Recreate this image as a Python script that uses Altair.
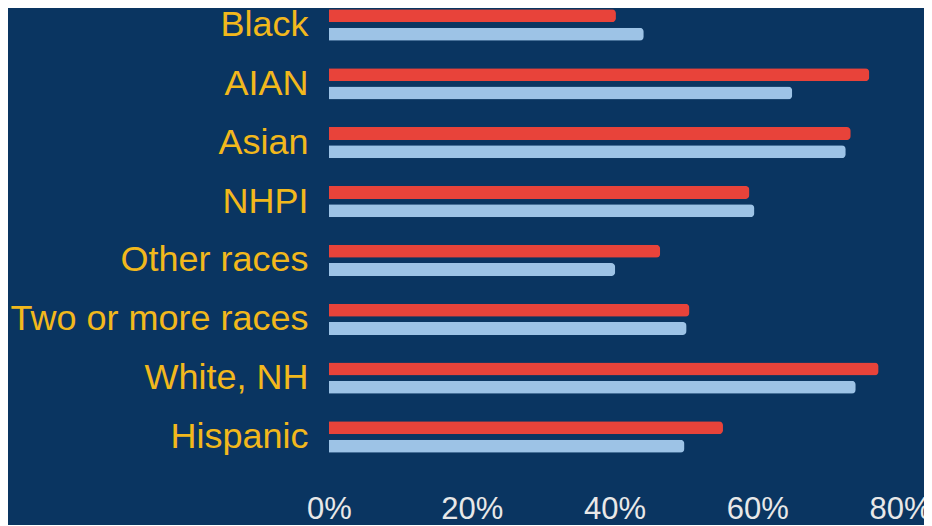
import altair as alt
import pandas as pd

groups = ["Black", "AIAN", "Asian", "NHPI", "Other races",
          "Two or more races", "White, NH", "Hispanic"]
series_names = ["Series 1", "Series 2"]
series1 = [0.402, 0.757, 0.731, 0.589, 0.464, 0.505, 0.770, 0.552]
series2 = [0.441, 0.649, 0.724, 0.596, 0.401, 0.501, 0.738, 0.498]
x_ticks = [0, 0.2, 0.4, 0.6, 0.8]

rows = []
for g, a, b in zip(groups, series1, series2):
    rows.append({"group": g, "series": series_names[0], "value": a})
    rows.append({"group": g, "series": series_names[1], "value": b})
df = pd.DataFrame(rows)

BG = "#0a3561"
RED = "#e8433a"
BLUE = "#9dc3e6"
YELLOW = "#f2b81c"

chart = alt.Chart(df).mark_bar(cornerRadiusEnd=4).encode(
    x=alt.X("value:Q",
            scale=alt.Scale(domain=[0, 0.8], nice=False),
            axis=alt.Axis(values=x_ticks, format=".0%", title=None, grid=False,
                          domain=False, ticks=False, tickSize=0, labelPadding=28,
                          labelFontSize=31, labelColor="#e8e8e8",
                          labelFont="Liberation Sans", labelFlush=False)),
    y=alt.Y("group:N", sort=groups,
            scale=alt.Scale(paddingInner=0, paddingOuter=0),
            axis=alt.Axis(title=None, domain=False, ticks=False, tickSize=0,
                          labelPadding=21, labelFontSize=36, labelColor=YELLOW,
                          labelFont="Liberation Sans", labelLimit=400)),
    yOffset=alt.YOffset("series:N", sort=series_names,
                        scale=alt.Scale(paddingInner=0.29, paddingOuter=0.753)),
    color=alt.Color("series:N", sort=series_names,
                    scale=alt.Scale(domain=series_names, range=[RED, BLUE]),
                    legend=None),
).properties(
    width=571,
    height=470.86,
    background=BG,
    autosize=alt.AutoSizeParams(type="none"),
    padding={"left": 321, "top": -12.43, "right": 24, "bottom": 59},
).configure_view(stroke=None)

chart.save("out.html", embed_options={"renderer": "svg", "actions": False})
